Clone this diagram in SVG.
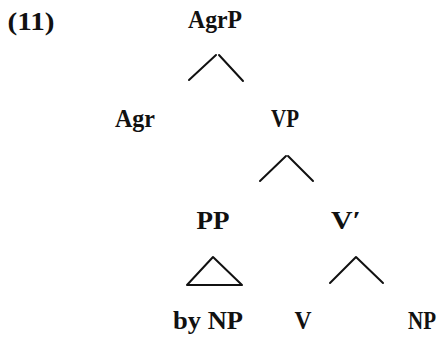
<svg xmlns="http://www.w3.org/2000/svg" width="441" height="339" viewBox="0 0 441 339">
<style>
text{font-family:"Liberation Serif","Times New Roman",serif;font-size:25px;font-weight:bold;fill:#111;text-anchor:middle}
.e{stroke:#111;stroke-width:2;fill:none;stroke-linecap:round;stroke-linejoin:round}
</style>
<rect width="441" height="339" fill="#fff"/>
<text x="31" y="30" textLength="47" lengthAdjust="spacingAndGlyphs">(11)</text>
<g id="AgrP"><text x="215" y="28" textLength="54" lengthAdjust="spacingAndGlyphs">AgrP</text></g>
<g id="Agr"><text x="135" y="127" textLength="40" lengthAdjust="spacingAndGlyphs">Agr</text></g>
<g id="VP"><text x="285" y="127" textLength="28" lengthAdjust="spacingAndGlyphs">VP</text></g>
<g id="PP"><text x="213" y="229" textLength="33" lengthAdjust="spacingAndGlyphs">PP</text></g>
<g id="Vbar"><text x="346" y="229" textLength="30" lengthAdjust="spacingAndGlyphs">V′</text></g>
<g id="byNP"><text x="208" y="329" textLength="70" lengthAdjust="spacingAndGlyphs">by NP</text></g>
<g id="V"><text x="303" y="329" textLength="17" lengthAdjust="spacingAndGlyphs">V</text></g>
<g id="NP"><text x="422" y="329" textLength="28" lengthAdjust="spacingAndGlyphs">NP</text></g>
<g id="connectors">
<path class="e" d="M189,80 L216,55 M219,55 L243,81"/>
<path class="e" d="M260,181 L286,156 M288,156 L313,181"/>
<path class="e" d="M187,285 L213,257 L242,285 Z"/>
<path class="e" d="M330,283 L356,257 L383,283"/>
</g>
</svg>
